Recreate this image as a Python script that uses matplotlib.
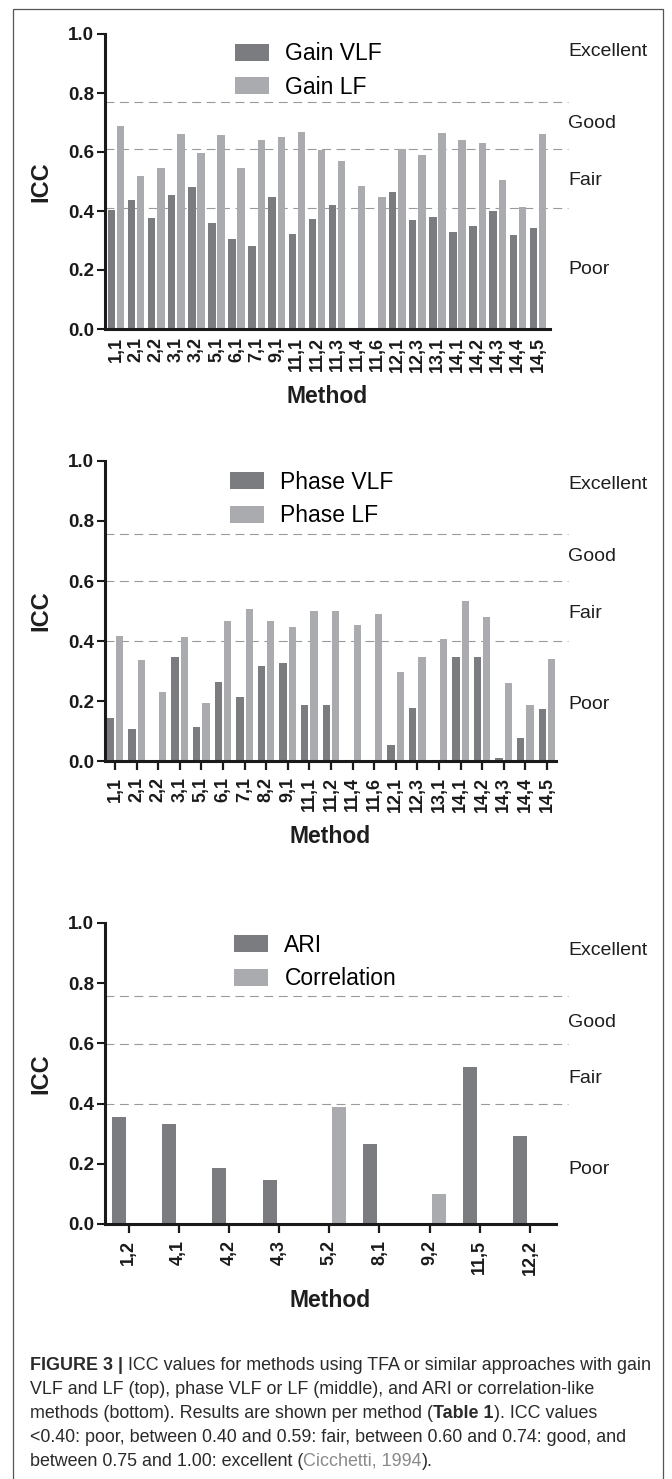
import numpy as np
import matplotlib
matplotlib.use('Agg')
import matplotlib.pyplot as plt
from matplotlib.patches import Rectangle

plt.rcParams['font.family'] = ['Liberation Sans', 'DejaVu Sans']

nan = np.nan

# ---------------- data ----------------
gain_methods = ['1,1', '2,1', '2,2', '3,1', '3,2', '5,1', '6,1', '7,1', '9,1', '11,1', '11,2',
                '11,3', '11,4', '11,6', '12,1', '12,3', '13,1', '14,1', '14,2', '14,3', '14,4', '14,5']
gain_vlf = [0.403, 0.437, 0.376, 0.454, 0.480, 0.358, 0.304, 0.280, 0.446, 0.321, 0.373,
            0.421, nan, nan, 0.466, 0.368, 0.381, 0.330, 0.349, 0.401, 0.318, 0.342]
gain_lf = [0.687, 0.519, 0.546, 0.662, 0.595, 0.659, 0.547, 0.640, 0.650, 0.669, 0.607,
           0.571, 0.486, 0.446, 0.609, 0.590, 0.663, 0.640, 0.631, 0.505, 0.413, 0.662]

phase_methods = ['1,1', '2,1', '2,2', '3,1', '5,1', '6,1', '7,1', '8,2', '9,1', '11,1', '11,2',
                 '11,4', '11,6', '12,1', '12,3', '13,1', '14,1', '14,2', '14,3', '14,4', '14,5']
phase_vlf = [0.144, 0.106, nan, 0.347, 0.112, 0.263, 0.213, 0.317, 0.326, 0.188, 0.188,
             nan, nan, 0.053, 0.178, nan, 0.347, 0.348, 0.011, 0.076, 0.173]
phase_lf = [0.416, 0.337, 0.231, 0.413, 0.193, 0.467, 0.508, 0.467, 0.447, 0.499, 0.499,
            0.453, 0.491, 0.297, 0.347, 0.406, 0.533, 0.481, 0.261, 0.188, 0.339]

ari_methods = ['1,2', '4,1', '4,2', '4,3', '5,2', '8,1', '9,2', '11,5', '12,2']
ari = [0.355, 0.331, 0.185, 0.146, nan, 0.267, nan, 0.523, 0.292]
correlation = [nan, nan, nan, nan, 0.389, nan, 0.099, nan, nan]

zone_names = ['Excellent', 'Good', 'Fair', 'Poor']
gain_cutoffs = [0.771, 0.610, 0.410]
other_cutoffs = [0.757, 0.599, 0.400]

DARK = '#7b7c80'
LIGHT = '#aaabaf'
TXT = '#1e1e1e'

W, H = 672, 1479
fig = plt.figure(figsize=(W / 100, H / 100), dpi=100)


def fx(px):
    return px / W


def fy(py):
    return 1 - py / H


def panel(rect, cats, s1, s2, names, cutoffs, zone_y, xlim, off, width,
          ticks, legend_xy, method_y):
    ax = fig.add_axes(rect)
    x = np.arange(len(cats))
    ax.bar(x - off, s1, width, color=DARK, label=names[0])
    ax.bar(x + off, s2, width, color=LIGHT, label=names[1])
    ax.set_xlim(*xlim)
    ax.set_ylim(0, 1.0)

    for s in ['top', 'right']:
        ax.spines[s].set_visible(False)
    for s in ['left', 'bottom']:
        ax.spines[s].set_linewidth(2.2)
        ax.spines[s].set_color('#1a1a1a')

    ax.set_yticks([0, 0.2, 0.4, 0.6, 0.8, 1.0])
    ax.set_yticklabels(['0.0', '0.2', '0.4', '0.6', '0.8', '1.0'])
    ax.tick_params(axis='y', length=6, width=1.5, pad=2, labelsize=13.5, colors='#1a1a1a')
    ax.set_xticks(x)
    ax.set_xticklabels(cats, rotation=90, fontweight='bold')
    if ticks:
        ax.tick_params(axis='x', length=6.5, width=1.6, pad=5, labelsize=13, colors='#1a1a1a')
    else:
        ax.tick_params(axis='x', length=0, pad=6, labelsize=13, colors='#1a1a1a')
    for lab in ax.get_yticklabels():
        lab.set_fontweight('bold')

    # dashed cut-off lines extending a little past the axis
    xend = (568 - rect[0] * W) / (rect[2] * W)
    for c in cutoffs:
        ax.plot([0.0, xend], [c, c], transform=ax.get_yaxis_transform(), clip_on=False,
                color='#9a9a9a', lw=0.8, dashes=(8, 5), zorder=0)
    for name, yv in zip(zone_names, zone_y):
        ax.text(xend, yv, name, transform=ax.get_yaxis_transform(), fontsize=14,
                color=TXT, va='center', ha='left')

    ax.set_xlabel('Method', fontsize=16.5, fontweight='bold', color=TXT)
    ax.xaxis.set_label_coords(0.5, method_y)
    ax.xaxis.label.set_verticalalignment('center')
    ax.set_ylabel('ICC', fontsize=17, fontweight='bold', color=TXT)
    ax.yaxis.set_label_coords(-0.143, 0.5)
    ax.yaxis.label.set_verticalalignment('center')

    ax.legend(loc='center left', bbox_to_anchor=(fx(legend_xy[0]), fy(legend_xy[1])),
              bbox_transform=fig.transFigure, frameon=False, fontsize=16.5,
              handlelength=1.48, handleheight=0.78, handletextpad=0.72,
              labelspacing=0.45, borderpad=0, borderaxespad=0)
    return ax


# top: gain
ax_top = panel([fx(105), fy(329), (550 - 105) / W, 295 / H], gain_methods, gain_vlf, gain_lf,
               ['Gain VLF', 'Gain LF'], gain_cutoffs, [0.94, 0.695, 0.505, 0.20],
               (-0.55, 21.6), 0.23, 0.37, False, (235, 70.5), -0.2305)

# middle: phase
panel([fx(105), fy(761), (556 - 105) / W, 300 / H], phase_methods, phase_vlf, phase_lf,
      ['Phase VLF', 'Phase LF'], other_cutoffs, [0.923, 0.68, 0.493, 0.187],
      (-0.46, 20.42), 0.215, 0.34, True, (230, 499), -0.253)

# bottom: ARI / correlation
panel([fx(105), fy(1224), (556 - 105) / W, 301 / H], ari_methods, ari, correlation,
      ['ARI', 'Correlation'], other_cutoffs, [0.91, 0.668, 0.482, 0.18],
      (-0.47, 8.52), 0.19, 0.28, True, (234, 962), -0.2525)

# frame around the figure
fig.patches.append(Rectangle((fx(13), -0.01), fx(650), fy(9) + 0.01, transform=fig.transFigure,
                             fill=False, edgecolor='#555555', lw=0.9))

# caption, built from chained text pieces so bold / grey parts sit inline
cap_fs = 12.9
cap_col = '#2a2a2a'
cap_x = fx(30)
lines_y = [1365, 1389, 1413, 1437, 1461]


def caption_line(parts, y):
    prev = fig.text(cap_x, fy(y), parts[0][0], fontsize=cap_fs, fontweight=parts[0][1],
                    color=parts[0][2], va='baseline', ha='left')
    for txt, weight, col in parts[1:]:
        prev = ax_top.annotate(txt, xy=(1, 0), xycoords=prev, va='bottom', ha='left',
                               fontsize=cap_fs, fontweight=weight, color=col,
                               annotation_clip=False)


caption_line([('FIGURE 3 |', 'bold', cap_col),
              (' ICC values for methods using TFA or similar approaches with gain', 'normal', cap_col)],
             lines_y[0] + 5)
caption_line([('VLF and LF (top), phase VLF or LF (middle), and ARI or correlation-like', 'normal', cap_col)],
             lines_y[1] + 5)
caption_line([('methods (bottom). Results are shown per method (', 'normal', cap_col),
              ('Table 1', 'bold', cap_col),
              ('). ICC values', 'normal', cap_col)], lines_y[2] + 5)
caption_line([('<0.40: poor, between 0.40 and 0.59: fair, between 0.60 and 0.74: good, and', 'normal', cap_col)],
             lines_y[3] + 5)
caption_line([('between 0.75 and 1.00: excellent (', 'normal', cap_col),
              ('Cicchetti, 1994', 'normal', '#8a8a8a'),
              (').', 'normal', cap_col)], lines_y[4] + 5)

fig.savefig('out.png', dpi=100)
